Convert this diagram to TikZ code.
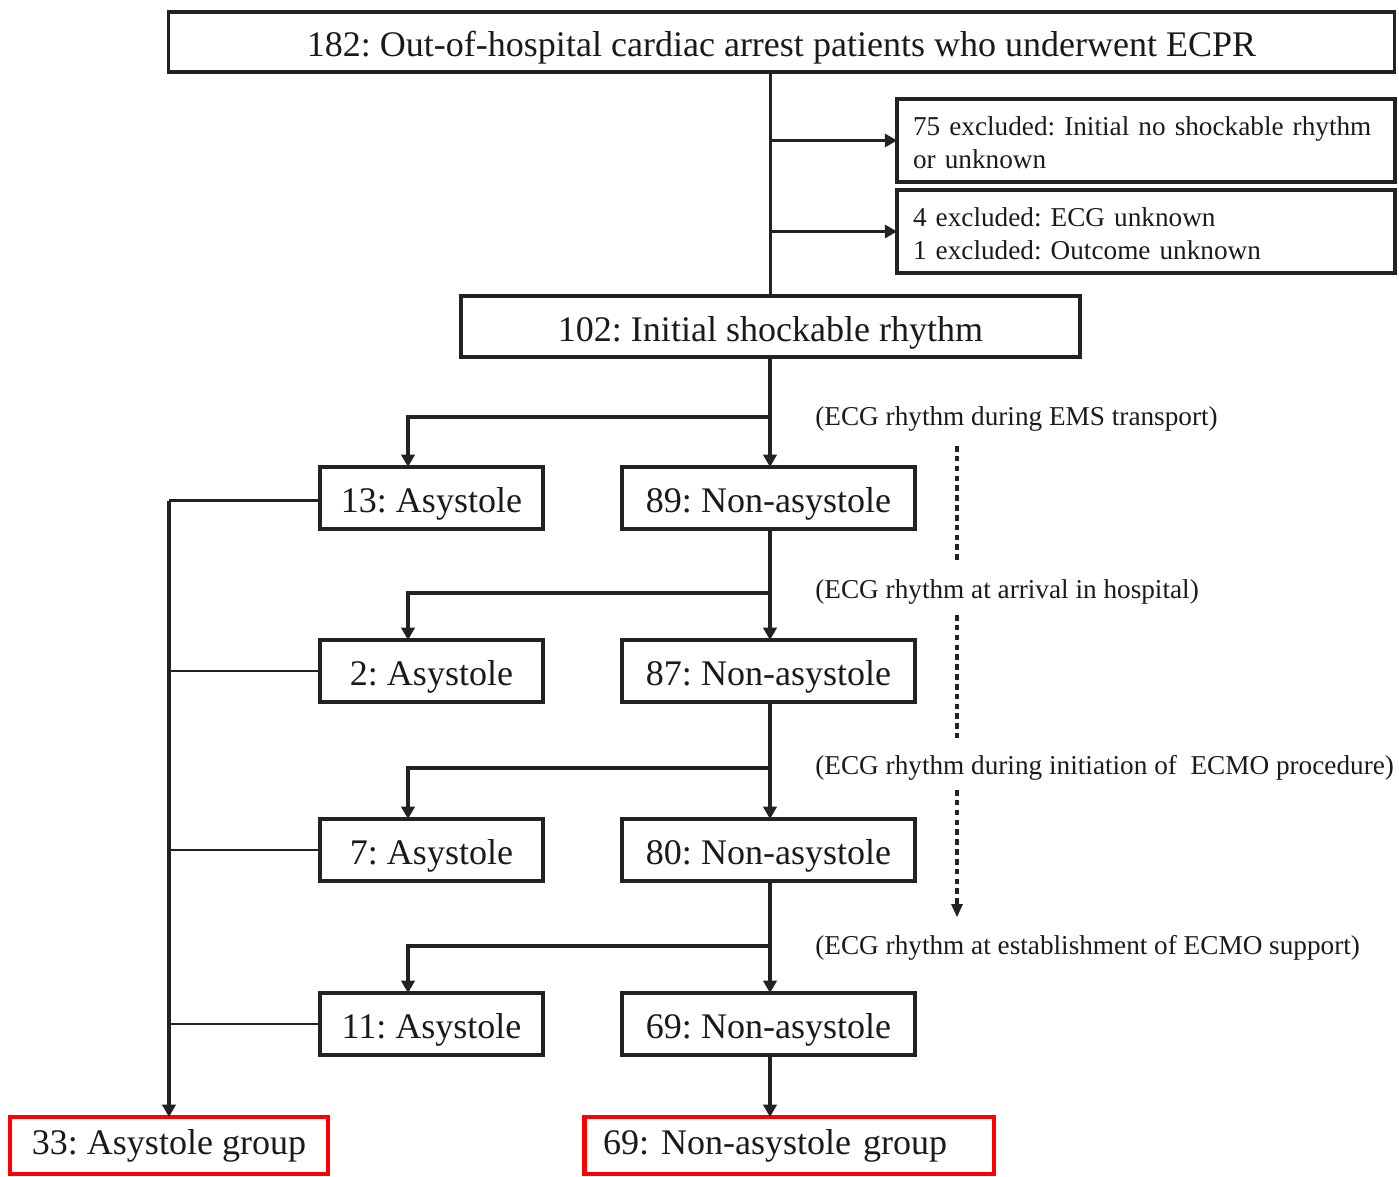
\documentclass[tikz,border=0pt]{standalone}
\usepackage{fontspec}
\setmainfont{Liberation Serif}
\usetikzlibrary{arrows.meta}
\definecolor{linec}{HTML}{222222}
\definecolor{textc}{HTML}{1A1A1A}
\definecolor{redc}{HTML}{FF0000}
\frenchspacing
\begin{document}
\frenchspacing
\begin{tikzpicture}[x=0.02cm,y=-0.02cm,
  big/.style={font=\frenchspacing\fontsize{20.5}{24}\selectfont},
  small/.style={font=\frenchspacing\fontsize{15.5}{18.7}\selectfont},
  box/.style={draw=linec, line width=1.8pt, inner sep=0pt, outer sep=0pt, text=textc, minimum height=1.24cm, big, text height=17pt, text depth=0pt},
  exbox/.style={draw=linec, line width=1.8pt, inner sep=0pt, outer sep=0pt, text=textc, small, minimum height=1.66cm, text width=9.32cm, inner xsep=0.32cm, align=left, text height=13pt},
  redbox/.style={draw=redc, line width=2.8pt, inner sep=0pt, outer sep=0pt, text=textc, minimum height=1.14cm, big},
  conn/.style={draw=linec, line width=1.8pt},
  arr/.style={conn, -{Triangle[length=7pt,width=7.5pt]}},
  thin/.style={draw=linec, line width=1.2pt},
  lab/.style={anchor=west, inner sep=0pt, text=textc, small},
  dots/.style={draw=linec, line width=2pt, dash pattern=on 3.2pt off 2.4pt}
]
\useasboundingbox (0,0) rectangle (1399,1176);

% boxes
\node[box, minimum width=24.54cm, minimum height=1.2cm] (top) at (781.5,42) {182: Out-of-hospital cardiac arrest patients who underwent ECPR};
\node[exbox] (e1) at (1146,140.5) {75 excluded: Initial no shockable rhythm\\or unknown};
\node[exbox] (e2) at (1146,231.5) {4 excluded: ECG unknown\\1 excluded: Outcome unknown};
\node[box, minimum width=12.38cm, minimum height=1.22cm] (s) at (770.5,326.5) {102: Initial shockable rhythm};

\node[box, minimum width=4.46cm] (a1) at (431.5,498) {13: Asystole};
\node[box, minimum width=5.86cm] (n1) at (768.5,498) {89: Non-asystole};
\node[box, minimum width=4.46cm] (a2) at (431.5,671) {2: Asystole};
\node[box, minimum width=5.86cm] (n2) at (768.5,671) {87: Non-asystole};
\node[box, minimum width=4.46cm] (a3) at (431.5,850) {7: Asystole};
\node[box, minimum width=5.86cm] (n3) at (768.5,850) {80: Non-asystole};
\node[box, minimum width=4.46cm] (a4) at (431.5,1024) {11: Asystole};
\node[box, minimum width=5.86cm] (n4) at (768.5,1024) {69: Non-asystole};

\node[redbox, minimum width=6.36cm] (g1) at (169,1145.5) {33: Asystole group};
\node[redbox, minimum width=8.2cm, text width=7.44cm, inner xsep=0.38cm, align=left] (g2) at (789,1145.5) {69: Non-asystole group};

% labels
\node[lab] (l1) at (815,419) {(ECG rhythm during EMS transport)};
\node[lab] (l2) at (815,592) {(ECG rhythm at arrival in hospital)};
\node[lab] (l3) at (815,768) {(ECG rhythm during initiation of \ ECMO procedure)};
\node[lab] (l4) at (815,948) {(ECG rhythm at establishment of ECMO support)};

% top trunk
\draw[conn] (s.north |- top.south) -- (s.north);
\draw[arr] (s.north |- e1.west) -- (e1.west);
\draw[arr] (s.north |- e2.west) -- (e2.west);

% branches
\coordinate (b1) at (770,417);
\coordinate (b2) at (770,593);
\coordinate (b3) at (770,768);
\coordinate (b4) at (770,946);
\draw[arr] (s.south -| b1) -- (b1 |- n1.north);
\draw[arr] (b1) -| ([xshift=-0.47cm]a1.north);
\draw[arr] (n1.south -| b2) -- (b2 |- n2.north);
\draw[arr] (b2) -| ([xshift=-0.47cm]a2.north);
\draw[arr] (n2.south -| b3) -- (b3 |- n3.north);
\draw[arr] (b3) -| ([xshift=-0.47cm]a3.north);
\draw[arr] (n3.south -| b4) -- (b4 |- n4.north);
\draw[arr] (b4) -| ([xshift=-0.47cm]a4.north);
\draw[arr] (n4.south -| b4) -- (b4 |- g2.north);

% left collector
\draw[thin] ([yshift=-0.05cm]a1.west) -- ([yshift=-0.05cm]a1.west -| g1.north);
\draw[thin] (a2.west) -- (a2.west -| g1.north);
\draw[thin] (a3.west) -- (a3.west -| g1.north);
\draw[thin] (a4.west) -- (a4.west -| g1.north);
\draw[arr] ([yshift=-0.05cm]a1.west -| g1.north) -- (g1.north);

% dotted timeline
\coordinate (d1) at (957,446);
\coordinate (d2) at (957,562);
\coordinate (d3) at (957,615);
\coordinate (d4) at (957,738);
\coordinate (d5) at (957,790);
\coordinate (d6) at (957,917);
\draw[dots] (d1) -- (d2);
\draw[dots] (d3) -- (d4);
\draw[dots] (d5) -- ([yshift=0.2cm]d6);
\fill[linec] (d6) ++(-6,-13) -- ++(12,0) -- (d6) -- cycle;
\end{tikzpicture}
\end{document}
